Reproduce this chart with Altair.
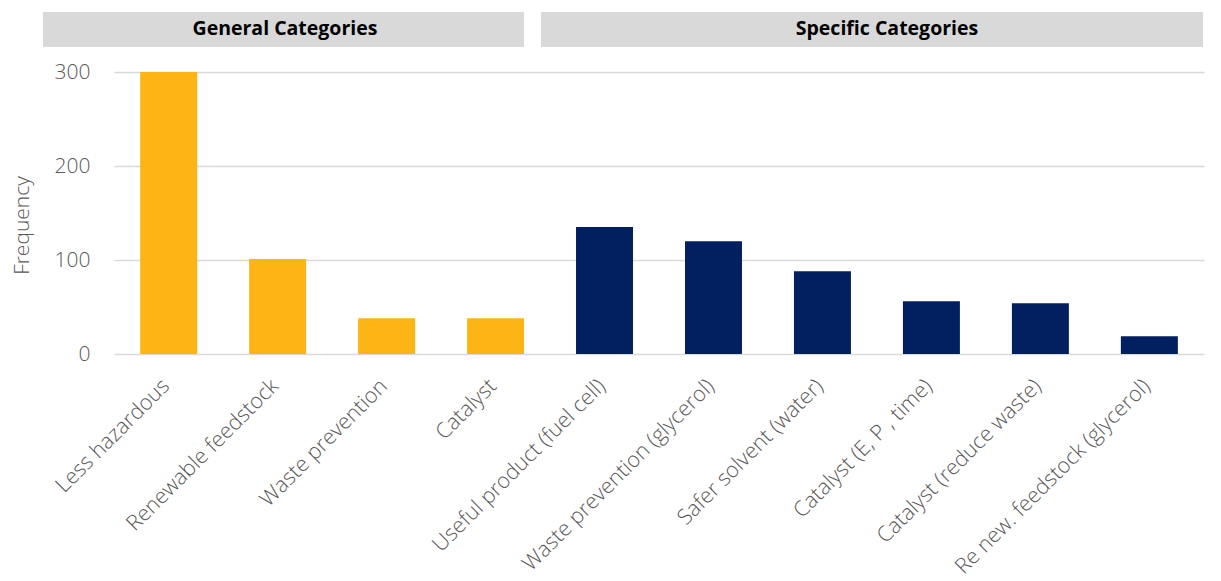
import altair as alt
import pandas as pd

categories = [
    "Less hazardous", "Renewable feedstock", "Waste prevention", "Catalyst",
    "Useful product (fuel cell)", "Waste prevention (glycerol)", "Safer solvent (water)",
    "Catalyst (E, P , time)", "Catalyst (reduce waste)", "Re new. feedstock (glycerol)",
]
values = [300, 101, 38, 38, 135, 120, 88, 56, 54, 19]
groups = ["General"] * 4 + ["Specific"] * 6
group_names = ["General", "Specific"]
group_colors = ["#FDB515", "#022060"]
header_labels = ["General Categories", "Specific Categories"]

df = pd.DataFrame({"category": categories, "value": values, "group": groups})

FONT = "Open Sans"
GREY = "#595959"

bars = alt.Chart(df).mark_bar().encode(
    x=alt.X(
        "category:N", sort=categories, title=None,
        scale=alt.Scale(paddingInner=0.477, paddingOuter=0.24),
        axis=alt.Axis(labelAngle=-45, labelFontSize=21.5, labelColor=GREY, labelFont=FONT,
                      labelFontWeight=300, grid=False, labelOffset=-10,
                      ticks=False, domain=False, labelPadding=21, labelLimit=400),
    ),
    y=alt.Y(
        "value:Q", title="Frequency",
        scale=alt.Scale(domain=[0, 300], nice=False),
        axis=alt.Axis(values=[0, 100, 200, 300], labelFontSize=21, labelColor=GREY,
                      labelFont=FONT, labelFontWeight=300, ticks=False, domain=False,
                      labelPadding=24, gridColor="#D9D9D9", gridWidth=1.5,
                      titleFontSize=21, titleColor=GREY, titleFont=FONT,
                      titleFontWeight=300, titleX=-92, titleY=153,
                      titleAlign="center", titleBaseline="middle", titleAngle=270),
    ),
    color=alt.Color("group:N", scale=alt.Scale(domain=group_names, range=group_colors), legend=None),
)

h1 = pd.DataFrame({"label": [header_labels[0]]})
h2 = pd.DataFrame({"label": [header_labels[1]]})

rect1 = alt.Chart(h1).mark_rect(color="#D9D9D9").encode(
    x=alt.value(-71), x2=alt.value(410), y=alt.value(-60), y2=alt.value(-25))
rect2 = alt.Chart(h2).mark_rect(color="#D9D9D9").encode(
    x=alt.value(427), x2=alt.value(1089), y=alt.value(-60), y2=alt.value(-25))
text1 = alt.Chart(h1).mark_text(font=FONT, fontSize=19.5, fontWeight="bold", color="black",
                                baseline="middle", align="center").encode(
    x=alt.value(171), y=alt.value(-43), text="label:N")
text2 = alt.Chart(h2).mark_text(font=FONT, fontSize=19.5, fontWeight="bold", color="black",
                                baseline="middle", align="center").encode(
    x=alt.value(773), y=alt.value(-43), text="label:N")

chart = alt.layer(bars, rect1, rect2, text1, text2).properties(
    width=1090, height=282,
    autosize=alt.AutoSizeParams(type="none"),
    padding={"left": 106, "top": 64, "right": 9, "bottom": 227},
).configure(background="white").configure_view(strokeWidth=0, stroke=None)

chart.save("out.html", embed_options={"renderer": "svg", "actions": False})
